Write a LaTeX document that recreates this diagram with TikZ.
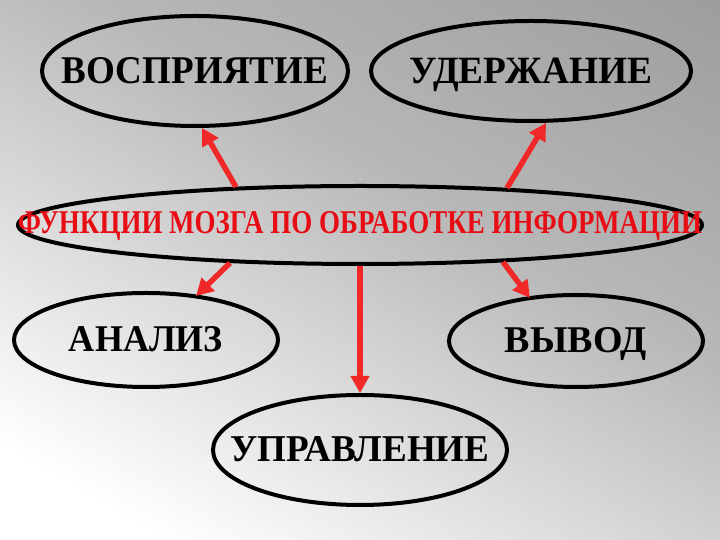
\documentclass[tikz,border=0pt]{standalone}
\usepackage{fontspec}
\setmainfont{Liberation Serif}
\usepackage{graphicx}
\usetikzlibrary{shapes.geometric,arrows.meta}
\pgfdeclarehorizontalshading{bgshade}{100bp}{color(0bp)=(white); color(30bp)=(white); color(56bp)=(black!28); color(100bp)=(black!52)}
\definecolor{arrred}{RGB}{240,40,40}
\definecolor{txtred}{RGB}{232,12,20}
\newcommand{\fitlabel}[3]{\resizebox{#1}{#2}{\bfseries #3}}
\begin{document}
\begin{tikzpicture}[x=1pt,y=1pt,
  oval/.style={ellipse, draw=black, line width=4pt, inner sep=0pt},
  arr/.style={draw=arrred, line width=5.5pt, -{Triangle[length=17pt,width=18pt]}},
  lbl/.style={anchor=base, inner sep=0pt}]
\useasboundingbox (0,0) rectangle (720,540);
\begin{scope}
  \clip (0,0) rectangle (720,540);
  \begin{scope}[transform canvas={rotate around={60:(360,270)}}]
    \shade[shading=bgshade] (-54,-230) rectangle (774,770);
  \end{scope}
\end{scope}

% ovals
\node[oval, minimum width=306pt, minimum height=110pt] (vos) at (195,469) {};
\node[oval, minimum width=320pt, minimum height=100pt] (ud)  at (531,469) {};
\node[oval, minimum width=684pt, minimum height=78pt]  (c)   at (360,315) {};
\node[oval, minimum width=264pt, minimum height=94pt]  (an)  at (146,200) {};
\node[oval, minimum width=254pt, minimum height=92pt]  (vy)  at (576,199) {};
\node[oval, minimum width=294pt, minimum height=110pt] (up)  at (360,90) {};

% labels
\node[lbl] (tvos) at ([yshift=-12.5pt]vos.center) {\fitlabel{266pt}{26pt}{ВОСПРИЯТИЕ}};
\node[lbl] (tud)  at ([yshift=-12.5pt]ud.center)  {\fitlabel{243pt}{25.5pt}{УДЕРЖАНИЕ}};
\node[lbl, text=txtred] (tc) at ([yshift=-9pt]c.center) {\fitlabel{684pt}{22pt}{ФУНКЦИИ МОЗГА ПО ОБРАБОТКЕ ИНФОРМАЦИИ}};
\node[lbl] (tan)  at ([yshift=-12pt]an.center)  {\fitlabel{154pt}{25pt}{АНАЛИЗ}};
\node[lbl] (tvy)  at ([yshift=-12pt]vy.center)  {\fitlabel{142pt}{25pt}{ВЫВОД}};
\node[lbl] (tup)  at ([yshift=-12pt]up.center)  {\fitlabel{259pt}{25pt}{УПРАВЛЕНИЕ}};

% arrows
\draw[arr] ([shift={(-124pt,38pt)}]c.center) -- ([shift={(7pt,-57pt)}]vos.center);
\draw[arr] ([shift={(147pt,37pt)}]c.center) -- ([shift={(15pt,-52pt)}]ud.center);
\draw[arr] ([shift={(-130pt,-38pt)}]c.center) -- ([shift={(50pt,44pt)}]an.center);
\draw[arr] ([shift={(143pt,-37pt)}]c.center) -- ([shift={(-46pt,43pt)}]vy.center);
\draw[arr] ([shift={(0pt,-41pt)}]c.center) -- ([shift={(0pt,57pt)}]up.center);
\end{tikzpicture}
\end{document}
